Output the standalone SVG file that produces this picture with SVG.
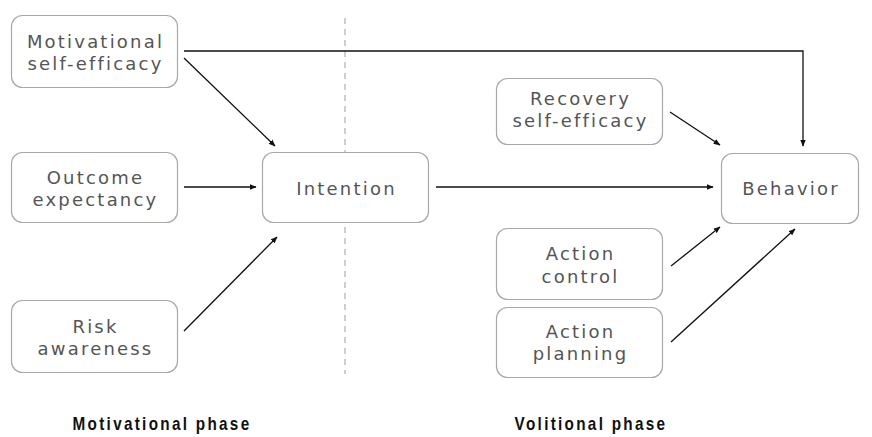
<svg xmlns="http://www.w3.org/2000/svg" width="872" height="437" viewBox="0 0 872 437">
  <defs>
    <marker id="arrow" viewBox="0 0 10 10" refX="9" refY="5" markerWidth="7" markerHeight="7" markerUnits="userSpaceOnUse" orient="auto">
      <path d="M0,1 L10,5 L0,9 Z" fill="#111"/>
    </marker>
    <style>
      .box { fill: #fff; stroke: #a8a8a8; stroke-width: 1.2; }
      .lbl { font-family: "DejaVu Sans", "Liberation Sans", sans-serif; font-size: 18px; fill: #555; letter-spacing: 2.2px; text-anchor: middle; }
      .phase { font-family: "Liberation Sans", "Arial", sans-serif; font-size: 18px; font-weight: bold; fill: #111; letter-spacing: 2.7px; text-anchor: middle; }
      .edge { fill: none; stroke: #111; stroke-width: 1.3; marker-end: url(#arrow); }
      .divider { stroke: #b4b4b4; stroke-width: 1.3; stroke-dasharray: 6 5; }
    </style>
  </defs>
  <rect width="872" height="437" fill="#fff"/>

  <line class="divider" x1="345" y1="18" x2="345" y2="374"/>

  <g id="connectors">
    <path class="edge" d="M184,51 H803 V146"/>
    <line class="edge" x1="184" y1="58" x2="275" y2="146"/>
    <line class="edge" x1="184" y1="187" x2="256" y2="187"/>
    <line class="edge" x1="184" y1="331" x2="277" y2="237"/>
    <line class="edge" x1="436" y1="187" x2="713" y2="187"/>
    <line class="edge" x1="670" y1="112" x2="720" y2="145"/>
    <line class="edge" x1="671" y1="266" x2="720" y2="227"/>
    <line class="edge" x1="671" y1="342" x2="795" y2="229"/>
  </g>

  <g id="motivational-self-efficacy">
    <rect class="box" x="11.5" y="15.5" width="166" height="72" rx="11"/>
    <text class="lbl" x="95.5" y="48">Motivational</text>
    <text class="lbl" x="95.5" y="70">self-efficacy</text>
  </g>
  <g id="outcome-expectancy">
    <rect class="box" x="11.5" y="152.5" width="166" height="70" rx="11"/>
    <text class="lbl" x="95.5" y="184">Outcome</text>
    <text class="lbl" x="95.5" y="206">expectancy</text>
  </g>
  <g id="risk-awareness">
    <rect class="box" x="11.5" y="300.5" width="166" height="72" rx="11"/>
    <text class="lbl" x="95.5" y="333">Risk</text>
    <text class="lbl" x="95.5" y="355">awareness</text>
  </g>
  <g id="intention">
    <rect class="box" x="262.5" y="152.5" width="166" height="70" rx="11"/>
    <text class="lbl" x="346.5" y="195">Intention</text>
  </g>
  <g id="recovery-self-efficacy">
    <rect class="box" x="496.5" y="78.5" width="166" height="66" rx="11"/>
    <text class="lbl" x="580.5" y="105">Recovery</text>
    <text class="lbl" x="580.5" y="127">self-efficacy</text>
  </g>
  <g id="behavior">
    <rect class="box" x="721.5" y="153.5" width="137" height="70" rx="11"/>
    <text class="lbl" x="791" y="195">Behavior</text>
  </g>
  <g id="action-control">
    <rect class="box" x="496.5" y="228.5" width="166" height="71" rx="11"/>
    <text class="lbl" x="580.5" y="260">Action</text>
    <text class="lbl" x="580.5" y="283">control</text>
  </g>
  <g id="action-planning">
    <rect class="box" x="496.5" y="307.5" width="166" height="70" rx="11"/>
    <text class="lbl" x="580.5" y="338">Action</text>
    <text class="lbl" x="580.5" y="360">planning</text>
  </g>

  <text class="phase" transform="translate(162,430) scale(0.85,1)">Motivational phase</text>
  <text class="phase" transform="translate(591,430) scale(0.85,1)">Volitional phase</text>
</svg>
